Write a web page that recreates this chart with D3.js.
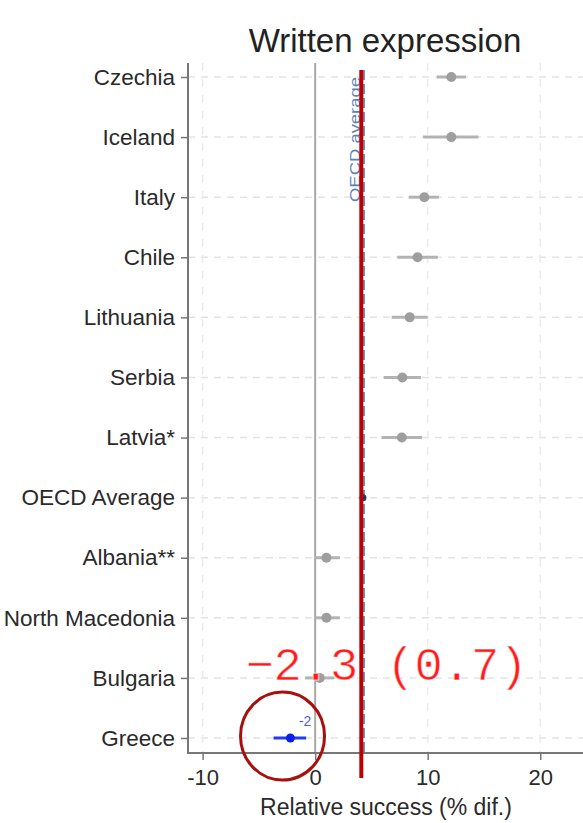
<!DOCTYPE html>
<html>
<head>
<meta charset="utf-8">
<script src="https://cdn.jsdelivr.net/npm/d3@7"></script>
<style>
  body { margin: 0; background: #fff; }
  svg { display: block; font-family: "Liberation Sans", Arial, sans-serif; }
</style>
</head>
<body>
<div id="chart"></div>
<script>
// data
let countries = ["Czechia", "Iceland", "Italy", "Chile", "Lithuania", "Serbia", "Latvia*",
    "OECD Average", "Albania**", "North Macedonia", "Bulgaria", "Greece"];
let estimates = [12.1, 12.1, 9.7, 9.1, 8.4, 7.75, 7.7, 4.25, 1.0, 1.0, 0.4, -2.2];
let lowerCI  = [10.8, 9.6, 8.3, 7.3, 6.8, 6.1, 5.9, null, 0.0, 0.0, -0.9, -3.7];
let upperCI  = [13.4, 14.5, 11.0, 10.9, 10.0, 9.4, 9.5, null, 2.2, 2.2, 1.7, -0.8];
let xTicks = [-10, 0, 10, 20];
let oecdAverage = 4.25;
let redLine = 4.1;
let highlight = "Greece";
let highlightLabel = "-2";
let annotationText = "\u22122.3 (0.7)";

let rows = countries.map((c, i) => ({
    country: c, est: estimates[i], lo: lowerCI[i], hi: upperCI[i]
}));

let margin = {top: 63, left: 188, bottom: 70};
let width = 583, height = 823;

let svg = d3.select("#chart").append("svg")
    .attr("width", width)
    .attr("height", height);

let x = d3.scaleLinear()
    .domain([-11.3, 23.8])
    .range([margin.left, width]);

let y = d3.scalePoint()
    .domain(countries)
    .range([77, 738]);

let plotTop = margin.top, plotBottom = 753;

// title
svg.append("text")
    .attr("x", 385)
    .attr("y", 52)
    .attr("text-anchor", "middle")
    .style("font-size", "33px")
    .attr("fill", "#222")
    .text("Written expression");

// grid
svg.selectAll(".hgrid")
    .data(countries)
    .enter().append("line")
    .attr("class", "hgrid")
    .attr("x1", margin.left).attr("x2", width)
    .attr("y1", d => y(d)).attr("y2", d => y(d))
    .attr("stroke", "#e3e3e3")
    .attr("stroke-width", 1.5)
    .attr("stroke-dasharray", "7,6");

svg.selectAll(".vgrid")
    .data(xTicks.filter(t => t !== 0))
    .enter().append("line")
    .attr("class", "vgrid")
    .attr("x1", d => x(d)).attr("x2", d => x(d))
    .attr("y1", plotTop).attr("y2", plotBottom)
    .attr("stroke", "#ececec")
    .attr("stroke-width", 1.5)
    .attr("stroke-dasharray", "8,8");

// zero line
svg.append("line")
    .attr("x1", x(0)).attr("x2", x(0))
    .attr("y1", plotTop).attr("y2", plotBottom)
    .attr("stroke", "#a8a8a8")
    .attr("stroke-width", 2);

// oecd average dashed line + label
svg.append("line")
    .attr("x1", x(oecdAverage) + 1).attr("x2", x(oecdAverage) + 1)
    .attr("y1", 70).attr("y2", plotBottom)
    .attr("stroke", "#6f95c2")
    .attr("stroke-width", 2)
    .attr("stroke-dasharray", "10,4");

svg.append("text")
    .attr("transform", `translate(${x(oecdAverage) - 3}, 202) rotate(-90)`)
    .attr("textLength", 125)
    .attr("lengthAdjust", "spacingAndGlyphs")
    .style("font-size", "14px")
    .attr("fill", "#5b82b5")
    .text("OECD average");

// axes
let yAxis = d3.axisLeft(y).tickSize(7).tickPadding(6);
let gy = svg.append("g")
    .attr("transform", `translate(${margin.left},0)`)
    .call(yAxis);
gy.select(".domain").remove();
gy.selectAll("line").attr("stroke", "#777").attr("stroke-width", 1.5);
gy.selectAll("text").style("font-size", "22.5px").attr("fill", "#2a2a2a")
    .attr("font-family", "'Liberation Sans', Arial, sans-serif");

let xAxis = d3.axisBottom(x).tickValues(xTicks).tickSize(7).tickPadding(9);
let gx = svg.append("g")
    .attr("transform", `translate(0,${plotBottom})`)
    .call(xAxis);
gx.select(".domain").remove();
gx.selectAll("line").attr("stroke", "#777").attr("stroke-width", 1.5);
gx.selectAll("text").style("font-size", "22px").attr("fill", "#2a2a2a")
    .attr("font-family", "'Liberation Sans', Arial, sans-serif")
    .text(d => d < 0 ? "-" + Math.abs(d) : d);

svg.append("line")
    .attr("x1", margin.left).attr("x2", margin.left)
    .attr("y1", plotTop).attr("y2", plotBottom + 1)
    .attr("stroke", "#777").attr("stroke-width", 2);
svg.append("line")
    .attr("x1", margin.left).attr("x2", width)
    .attr("y1", plotBottom).attr("y2", plotBottom)
    .attr("stroke", "#777").attr("stroke-width", 2);

svg.append("text")
    .attr("x", 386)
    .attr("y", 815)
    .attr("text-anchor", "middle")
    .style("font-size", "23px")
    .attr("fill", "#2a2a2a")
    .text("Relative success (% dif.)");

// confidence intervals
let ciRows = rows.filter(d => d.lo !== null);
svg.selectAll(".ci")
    .data(ciRows)
    .enter().append("line")
    .attr("class", "ci")
    .attr("x1", d => x(d.lo)).attr("x2", d => x(d.hi))
    .attr("y1", d => y(d.country)).attr("y2", d => y(d.country))
    .attr("stroke", d => d.country === highlight ? "#1f3df5" : "#b3b3b3")
    .attr("stroke-width", 3);

// points
svg.selectAll(".pt")
    .data(rows)
    .enter().append("circle")
    .attr("class", "pt")
    .attr("cx", d => x(d.est))
    .attr("cy", d => y(d.country))
    .attr("r", d => d.country === highlight ? 4.5 : (d.country === "OECD Average" ? 3.5 : 5))
    .attr("fill", d => d.country === highlight ? "#0a1fe8"
        : (d.country === "OECD Average" ? "#1d3f66" : "#9e9e9e"));

// highlight label
let hl = rows.find(d => d.country === highlight);
svg.append("text")
    .attr("x", x(hl.hi) - 1)
    .attr("y", y(hl.country) - 12)
    .attr("text-anchor", "middle")
    .style("font-size", "14px")
    .attr("fill", "#4a5cff")
    .text(highlightLabel);

// red vertical line
svg.append("line")
    .attr("x1", x(redLine)).attr("x2", x(redLine))
    .attr("y1", 70).attr("y2", 778)
    .attr("stroke", "#c00000")
    .attr("stroke-width", 4);

// red annotation
svg.append("text")
    .attr("x", x(-6.2))
    .attr("y", y("Bulgaria") + 2)
    .attr("font-family", "'Liberation Mono', 'Courier New', monospace")
    .style("font-size", "47px")
    .attr("fill", "#ff1a1a")
    .attr("stroke", "#fff")
    .attr("stroke-width", 1.2)
    .attr("stroke-opacity", 0.6)
    .text(annotationText);

svg.append("ellipse")
    .attr("cx", x(-2.9))
    .attr("cy", y(highlight) - 2)
    .attr("rx", 42)
    .attr("ry", 44)
    .attr("fill", "none")
    .attr("stroke", "#a81010")
    .attr("stroke-width", 3);
</script>
</body>
</html>
